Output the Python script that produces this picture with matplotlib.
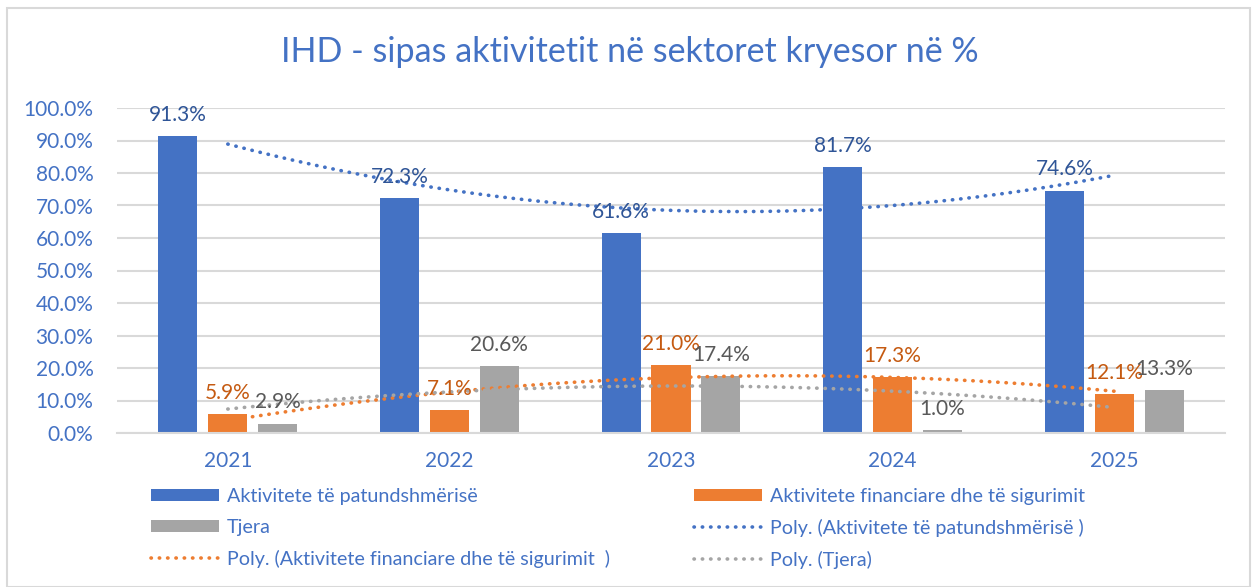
import numpy as np
import matplotlib
matplotlib.use("Agg")
import matplotlib.pyplot as plt
from matplotlib.patches import Patch, Rectangle
from matplotlib.lines import Line2D
from matplotlib.ticker import FuncFormatter

plt.rcParams['font.family'] = ['Lato', 'DejaVu Sans']

years = ["2021", "2022", "2023", "2024", "2025"]
real_estate = [91.3, 72.3, 61.6, 81.7, 74.6]
financial = [5.9, 7.1, 21.0, 17.3, 12.1]
other = [2.9, 20.6, 17.4, 1.0, 13.3]

series_names = ["Aktivitete të patundshmërisë",
                "Aktivitete financiare dhe të sigurimit",
                "Tjera"]
trend_names = ["Poly. (Aktivitete të patundshmërisë )",
               "Poly. (Aktivitete financiare dhe të sigurimit  )",
               "Poly. (Tjera)"]
title = "IHD - sipas aktivitetit në sektoret kryesor në %"

colors = ["#4472C4", "#ED7D31", "#A5A5A5"]
label_colors = ["#2F5597", "#C55A11", "#595959"]

W, H = 1255, 587
fig = plt.figure(figsize=(W / 100, H / 100), dpi=100)
fig.patch.set_facecolor("white")

# outer chart border
fig.add_artist(Rectangle((7 / W, 0), (1250 - 7) / W, 1 - 8 / H, transform=fig.transFigure,
                         fill=False, edgecolor="#D9D9D9", linewidth=1.5))

left, right = 117 / W, 1225 / W
top, bottom = 1 - 108 / H, 1 - 433 / H
ax = fig.add_axes([left, bottom, right - left, top - bottom])

x = np.arange(len(years))
width = 0.176
step = 0.225
all_series = [real_estate, financial, other]

for i, (vals, col, lc, name) in enumerate(zip(all_series, colors, label_colors, series_names)):
    pos = x + (i - 1) * step
    v = np.array(vals) / 100
    ax.bar(pos, v, width=width, color=col, zorder=2)
    for px, pv, raw in zip(pos, v, vals):
        ax.annotate(f"{raw:.1f}%", (px, pv), xytext=(0, 8), textcoords="offset points",
                    ha="center", va="bottom", fontsize=15, color=lc, zorder=5)

# polynomial (order 2) trendlines, as in Excel
xs = np.linspace(0, 4, 200)
for vals, col in zip(all_series, colors):
    coef = np.polyfit(x, np.array(vals) / 100, 2)
    ax.plot(xs, np.polyval(coef, xs), linestyle=(0, (0.1, 2.2)), dash_capstyle="round",
            color=col, linewidth=2.6, zorder=4)

ax.set_xlim(-0.5, 4.5)
ax.set_ylim(0, 1.0)
ax.set_yticks(np.arange(0, 1.01, 0.1))
ax.yaxis.set_major_formatter(FuncFormatter(lambda v, p: f"{v * 100:.1f}%"))
ax.set_xticks(x)
ax.set_xticklabels(years)
ax.grid(axis="y", color="#D9D9D9", linewidth=1.5, zorder=0)
ax.set_axisbelow(True)
for s in ["top", "right", "left"]:
    ax.spines[s].set_visible(False)
ax.spines["bottom"].set_color("#D9D9D9")
ax.spines["bottom"].set_linewidth(1.5)
ax.tick_params(axis="y", length=0, pad=17, labelsize=15, labelcolor="#4472C4")
ax.tick_params(axis="x", length=0, pad=13, labelsize=15, labelcolor="#4472C4")
ax.set_facecolor("none")

fig.text(630 / W, 1 - 52 / H, title, ha="center", va="center", fontsize=24.5,
         color="#4472C4")

def bar_handle(c):
    return Patch(facecolor=c, edgecolor="none")

def line_handle(c):
    return Line2D([0], [0], color=c, linestyle=(0, (0.1, 2.2)), dash_capstyle="round", linewidth=2.6)

col1 = [(bar_handle(colors[0]), series_names[0]),
        (bar_handle(colors[2]), series_names[2]),
        (line_handle(colors[1]), trend_names[1])]
col2 = [(bar_handle(colors[1]), series_names[1]),
        (line_handle(colors[0]), trend_names[0]),
        (line_handle(colors[2]), trend_names[2])]

for entries, xpos in [(col1, 146 / W), (col2, 689 / W)]:
    leg = fig.legend([e[0] for e in entries], [e[1] for e in entries],
                     loc="upper left", bbox_to_anchor=(xpos, 1 - 483 / H),
                     frameon=False, fontsize=14.2, labelcolor="#4472C4",
                     handlelength=3.45, handleheight=0.6, handletextpad=0.4,
                     labelspacing=0.7, borderaxespad=0, borderpad=0.25)

fig.savefig("out.png", dpi=100)
